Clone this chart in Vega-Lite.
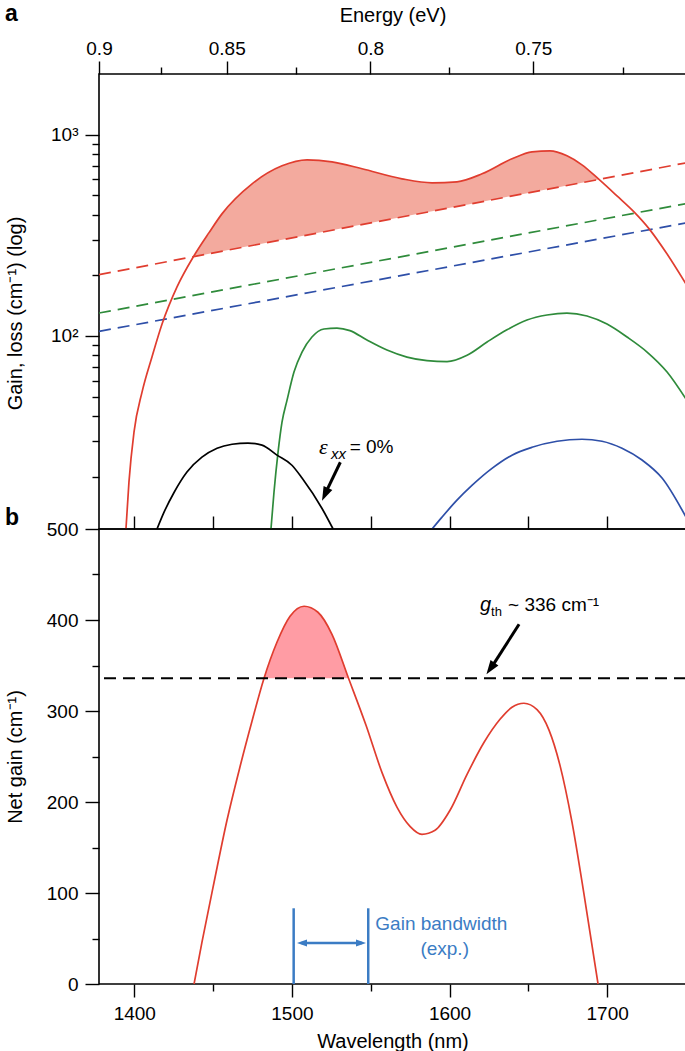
{
  "$schema": "https://vega.github.io/schema/vega-lite/v6.json",
  "padding": {"left": 4, "top": 2, "right": 0, "bottom": 0},
  "config": {
    "font": "Liberation Sans",
    "view": {"stroke": "#000000", "strokeWidth": 1.6},
    "axis": {"domain": false, "grid": false, "labelFontSize": 19, "titleFontSize": 20, "labelColor": "#000000", "titleColor": "#000000", "tickColor": "#000000", "tickWidth": 1.4, "titleFontWeight": "normal", "labelFlush": false, "labelOverlap": false, "labelFont": "Liberation Sans", "titleFont": "Liberation Sans"},
    "title": {"font": "Liberation Sans", "fontSize": 23, "fontWeight": "bold", "anchor": "start", "frame": "bounds", "color": "#000000", "offset": 0}
  },
  "datasets": {
    "gain": [
      {"s":"red","lam":1394.7,"g":11.0},
      {"s":"red","lam":1396.6,"g":18.8},
      {"s":"red","lam":1399.8,"g":33.3},
      {"s":"red","lam":1404.9,"g":52.6},
      {"s":"red","lam":1411.2,"g":78.6},
      {"s":"red","lam":1417.6,"g":114.6},
      {"s":"red","lam":1427.1,"g":175.2},
      {"s":"red","lam":1437.5,"g":247.6,"loss":247.6},
      {"s":"red","lam":1447.4,"g":326,"loss":256.2},
      {"s":"red","lam":1455.6,"g":404,"loss":263.6},
      {"s":"red","lam":1474.7,"g":569.6,"loss":281.4},
      {"s":"red","lam":1493.7,"g":699.8,"loss":300.4},
      {"s":"red","lam":1509.6,"g":749.8,"loss":317.2},
      {"s":"red","lam":1525.4,"g":732.9,"loss":334.9},
      {"s":"red","lam":1544.5,"g":676.5,"loss":357.6},
      {"s":"red","lam":1569.8,"g":603.2,"loss":390.1},
      {"s":"red","lam":1588.9,"g":576.2,"loss":416.6},
      {"s":"red","lam":1604.7,"g":582.9,"loss":439.8},
      {"s":"red","lam":1620.6,"g":638.6,"loss":464.5},
      {"s":"red","lam":1639.6,"g":758.5,"loss":495.9},
      {"s":"red","lam":1652.3,"g":821.5,"loss":517.9},
      {"s":"red","lam":1663.7,"g":831,"loss":538.5},
      {"s":"red","lam":1674.5,"g":784.8,"loss":558.9},
      {"s":"red","lam":1684.0,"g":707.9,"loss":577.4},
      {"s":"red","lam":1694.8,"g":599.2,"loss":599.2},
      {"s":"red","lam":1706.2,"g":496.4},
      {"s":"red","lam":1717.0,"g":413.4},
      {"s":"red","lam":1726.5,"g":341.4},
      {"s":"red","lam":1737.9,"g":256.0},
      {"s":"red","lam":1750.0,"g":181.2},
      {"s":"green","lam":1486.7,"g":11.0},
      {"s":"green","lam":1488.6,"g":16.7},
      {"s":"green","lam":1491.2,"g":26.5},
      {"s":"green","lam":1493.7,"g":37.3},
      {"s":"green","lam":1496.9,"g":48.0},
      {"s":"green","lam":1501.3,"g":66.2},
      {"s":"green","lam":1506.4,"g":83.2},
      {"s":"green","lam":1512.7,"g":98.8},
      {"s":"green","lam":1520.3,"g":108.3},
      {"s":"green","lam":1528.6,"g":109.5},
      {"s":"green","lam":1536.8,"g":106.3},
      {"s":"green","lam":1547.6,"g":95.4},
      {"s":"green","lam":1560.3,"g":85.1},
      {"s":"green","lam":1573.0,"g":78.5},
      {"s":"green","lam":1585.7,"g":75.4},
      {"s":"green","lam":1598.4,"g":74.6},
      {"s":"green","lam":1611.1,"g":80.2},
      {"s":"green","lam":1623.8,"g":93.3},
      {"s":"green","lam":1636.4,"g":107.3},
      {"s":"green","lam":1649.1,"g":120.0},
      {"s":"green","lam":1661.8,"g":127.1},
      {"s":"green","lam":1674.5,"g":130.0},
      {"s":"green","lam":1687.2,"g":125.7},
      {"s":"green","lam":1699.9,"g":114.6},
      {"s":"green","lam":1712.6,"g":98.8},
      {"s":"green","lam":1725.3,"g":83.2},
      {"s":"green","lam":1738.0,"g":66.2},
      {"s":"green","lam":1750.0,"g":48.6},
      {"s":"black","lam":1414.4,"g":11.0},
      {"s":"black","lam":1418.8,"g":13.3},
      {"s":"black","lam":1425.2,"g":16.7},
      {"s":"black","lam":1433.4,"g":21.1},
      {"s":"black","lam":1442.9,"g":25.0},
      {"s":"black","lam":1452.5,"g":27.7},
      {"s":"black","lam":1462.0,"g":29.0},
      {"s":"black","lam":1472.1,"g":29.4},
      {"s":"black","lam":1481.0,"g":28.7},
      {"s":"black","lam":1490.5,"g":25.6},
      {"s":"black","lam":1500.0,"g":22.8},
      {"s":"black","lam":1506.4,"g":19.7},
      {"s":"black","lam":1519.1,"g":13.9},
      {"s":"black","lam":1526.1,"g":11.0},
      {"s":"blue","lam":1588.9,"g":11.0},
      {"s":"blue","lam":1595.2,"g":12.6},
      {"s":"blue","lam":1604.7,"g":15.3},
      {"s":"blue","lam":1614.2,"g":18.1},
      {"s":"blue","lam":1626.9,"g":22.0},
      {"s":"blue","lam":1639.6,"g":25.6},
      {"s":"blue","lam":1652.3,"g":28.0},
      {"s":"blue","lam":1668.2,"g":30.0},
      {"s":"blue","lam":1684.0,"g":30.7},
      {"s":"blue","lam":1696.7,"g":30.0},
      {"s":"blue","lam":1709.4,"g":27.7},
      {"s":"blue","lam":1722.1,"g":24.2},
      {"s":"blue","lam":1734.8,"g":19.7},
      {"s":"blue","lam":1750.0,"g":12.6}
    ],
    "loss": [
      {"s":"red","lam":1377.6,"v":201.6},
      {"s":"red","lam":1750.0,"v":724.2},
      {"s":"green","lam":1377.6,"v":130.0},
      {"s":"green","lam":1750.0,"v":454.5},
      {"s":"blue","lam":1377.6,"v":105.4},
      {"s":"blue","lam":1750.0,"v":364.4}
    ],
    "net": [
      {"lam":1437.9,"v":0},
      {"lam":1442.9,"v":45.8},
      {"lam":1450.6,"v":111.8},
      {"lam":1458.8,"v":179.9},
      {"lam":1467.1,"v":239.0},
      {"lam":1474.7,"v":289.0},
      {"lam":1482.3,"v":336,"th":336},
      {"lam":1490.5,"v":375.5,"th":336},
      {"lam":1498.8,"v":404.1,"th":336},
      {"lam":1507.7,"v":415.1,"th":336},
      {"lam":1516.5,"v":408.5,"th":336},
      {"lam":1525.4,"v":384.3,"th":336},
      {"lam":1535.9,"v":336,"th":336},
      {"lam":1547.0,"v":284.3},
      {"lam":1557.1,"v":232.6},
      {"lam":1566.7,"v":194.2},
      {"lam":1574.9,"v":173.3},
      {"lam":1582.5,"v":164.5},
      {"lam":1590.8,"v":168.9},
      {"lam":1600.3,"v":190.9},
      {"lam":1611.1,"v":230.4},
      {"lam":1621.9,"v":265.6},
      {"lam":1632.0,"v":290.9},
      {"lam":1639.6,"v":304.1},
      {"lam":1647.2,"v":308.5},
      {"lam":1655.5,"v":301.5},
      {"lam":1663.1,"v":279.0},
      {"lam":1670.1,"v":240.0},
      {"lam":1677.7,"v":177.7},
      {"lam":1685.9,"v":92.0},
      {"lam":1694.2,"v":0}
    ]
  },
  "spacing": 0,
  "bounds": "flush",
  "vconcat": [
    {
      "width": 587,
      "height": 455,
      "title": {"text": "a", "dy": 25, "dx": 0},
      "resolve": {"axis": {"x": "independent", "y": "independent"}},
      "layer": [
        {
          "data": {"name": "gain"},
          "transform": [{"filter": "datum.s === 'red' && isValid(datum.loss)"}],
          "mark": {"type": "area", "color": "#f3aa9e", "interpolate": "monotone", "clip": true},
          "encoding": {
            "x": {"field": "lam", "type": "quantitative", "scale": {"domain": [1377.6, 1750], "nice": false, "zero": false}, "axis": null},
            "y": {"field": "g", "type": "quantitative", "scale": {"type": "log", "domain": [11, 2000], "nice": false},
              "axis": {"orient": "left", "values": [100, 1000],
                "labelExpr": "datum.value == 100 ? '10²' : '10³'",
                "tickSize": 14, "labelPadding": 7, "title": "Gain, loss (cm⁻¹) (log)", "titleX": -74, "titleY": 239}},
            "y2": {"field": "loss"}
          }
        },
        {
          "data": {"name": "loss"},
          "mark": {"type": "line", "strokeDash": [12, 7], "strokeWidth": 1.7, "clip": true},
          "encoding": {
            "x": {"field": "lam", "type": "quantitative",
              "axis": {"orient": "top", "values": [1377.6, 1458.64, 1549.8, 1653.12],
                "labelExpr": "format(1239.84/datum.value, '.2~f')",
                "tickSize": 13, "labelPadding": 3, "title": "Energy (eV)", "titlePadding": 14}},
            "y": {"field": "v", "type": "quantitative",
              "axis": {"orient": "left", "values": [20,30,40,50,60,70,80,90,200,300,400,500,600,700,800,900], "tickSize": 7, "labels": false, "title": null}},
            "color": {"field": "s", "type": "nominal", "scale": {"domain": ["red", "green", "blue", "black"], "range": ["#e03d2f", "#2f8b3b", "#2e4fa8", "#000000"]}, "legend": null}
          }
        },
        {
          "data": {"name": "gain"},
          "mark": {"type": "line", "strokeWidth": 1.7, "interpolate": "monotone", "clip": true},
          "encoding": {
            "x": {"field": "lam", "type": "quantitative",
              "axis": {"orient": "bottom", "values": [1400, 1450, 1500, 1550, 1600, 1650, 1700, 1750], "tickSize": -13, "labels": false, "title": null}},
            "y": {"field": "g", "type": "quantitative", "axis": null},
            "color": {"field": "s", "type": "nominal", "scale": {"domain": ["red", "green", "blue", "black"], "range": ["#e03d2f", "#2f8b3b", "#2e4fa8", "#000000"]}, "legend": null}
          }
        },
        {
          "data": {"values": [{"lam": 1530.7, "v": 23.6, "lam2": 1521.8, "v2": 16.9}]},
          "mark": {"type": "rule", "strokeWidth": 3, "color": "#000000"},
          "encoding": {
            "x": {"field": "lam", "type": "quantitative",
              "axis": {"orient": "top", "values": [1416.96, 1502.84, 1599.79, 1710.12], "tickSize": 7, "labels": false, "title": null}},
            "y": {"field": "v", "type": "quantitative", "axis": null},
            "x2": {"field": "lam2"},
            "y2": {"field": "v2"}
          }
        },
        {
          "data": {"values": [{"lam": 1519.1, "v": 15.2}]},
          "mark": {"type": "point", "shape": "M0,0L0.55,1.6L-0.55,1.6Z", "filled": true, "color": "#000000", "opacity": 1, "size": 306, "angle": 205, "strokeWidth": 0},
          "encoding": {
            "x": {"field": "lam", "type": "quantitative", "axis": null},
            "y": {"field": "v", "type": "quantitative", "axis": null}
          }
        },
        {
          "data": {"values": [{"lam": 1517.2, "v": 28.0, "t": "ε"}]},
          "mark": {"type": "text", "font": "Liberation Serif", "fontStyle": "italic", "fontSize": 22, "align": "left", "baseline": "middle", "color": "#000000"},
          "encoding": {
            "x": {"field": "lam", "type": "quantitative", "axis": null},
            "y": {"field": "v", "type": "quantitative", "axis": null},
            "text": {"field": "t"}
          }
        },
        {
          "data": {"values": [{"lam": 1524.8, "v": 25.9, "t": "xx"}]},
          "mark": {"type": "text", "fontStyle": "italic", "fontSize": 15, "align": "left", "baseline": "middle", "color": "#000000"},
          "encoding": {
            "x": {"field": "lam", "type": "quantitative", "axis": null},
            "y": {"field": "v", "type": "quantitative", "axis": null},
            "text": {"field": "t"}
          }
        },
        {
          "data": {"values": [{"lam": 1536.6, "v": 28.0, "t": "= 0%"}]},
          "mark": {"type": "text", "fontSize": 19, "align": "left", "baseline": "middle", "color": "#000000"},
          "encoding": {
            "x": {"field": "lam", "type": "quantitative", "axis": null},
            "y": {"field": "v", "type": "quantitative", "axis": null},
            "text": {"field": "t"}
          }
        }
      ]
    },
    {
      "width": 587,
      "height": 455,
      "title": {"text": "b", "dy": 14, "dx": 0},
      "resolve": {"axis": {"x": "independent", "y": "independent"}},
      "layer": [
        {
          "data": {"name": "net"},
          "transform": [{"filter": "isValid(datum.th)"}],
          "mark": {"type": "area", "color": "#ff9ca4", "interpolate": "monotone", "clip": true},
          "encoding": {
            "x": {"field": "lam", "type": "quantitative", "scale": {"domain": [1377.6, 1750], "nice": false, "zero": false}, "axis": null},
            "y": {"field": "v", "type": "quantitative", "scale": {"domain": [0, 500], "nice": false, "zero": false},
              "axis": {"orient": "left", "values": [0, 100, 200, 300, 400, 500],
                "tickSize": 14, "labelPadding": 7, "title": "Net gain (cm⁻¹)", "titleX": -74}},
            "y2": {"field": "th"}
          }
        },
        {
          "data": {"name": "net"},
          "mark": {"type": "line", "color": "#e03d2f", "strokeWidth": 1.7, "interpolate": "monotone", "clip": true},
          "encoding": {
            "x": {"field": "lam", "type": "quantitative",
              "axis": {"orient": "bottom", "values": [1400, 1500, 1600, 1700], "format": "d",
                "tickSize": 13, "labelPadding": 7, "title": "Wavelength (nm)", "titlePadding": 8}},
            "y": {"field": "v", "type": "quantitative",
              "axis": {"orient": "left", "values": [50, 150, 250, 350, 450], "tickSize": 7, "labels": false, "title": null}}
          }
        },
        {
          "data": {"values": [{"v": 336}]},
          "mark": {"type": "rule", "strokeDash": [12, 7], "strokeWidth": 2, "color": "#000000"},
          "encoding": {"y": {"field": "v", "type": "quantitative", "axis": null}}
        },
        {
          "data": {"values": [{"lam": 1501.1, "v": 0, "v2": 83.2}, {"lam": 1548.4, "v": 0, "v2": 83.2}]},
          "mark": {"type": "rule", "strokeWidth": 2.5, "color": "#3b7cc4"},
          "encoding": {
            "x": {"field": "lam", "type": "quantitative",
              "axis": {"orient": "bottom", "values": [1450, 1550, 1650, 1750], "tickSize": 7, "labels": false, "title": null}},
            "y": {"field": "v", "type": "quantitative", "axis": null},
            "y2": {"field": "v2"}
          }
        },
        {
          "data": {"values": [{"lam": 1506.0, "lam2": 1544.5, "v": 45.1}]},
          "mark": {"type": "rule", "strokeWidth": 2.5, "color": "#3b7cc4"},
          "encoding": {
            "x": {"field": "lam", "type": "quantitative", "axis": null},
            "x2": {"field": "lam2"},
            "y": {"field": "v", "type": "quantitative", "axis": null}
          }
        },
        {
          "data": {"values": [{"lam": 1503.2, "v": 45.1}]},
          "mark": {"type": "point", "shape": "M0,0L0.55,1.6L-0.55,1.6Z", "filled": true, "color": "#3b7cc4", "opacity": 1, "size": 156, "angle": 270, "strokeWidth": 0},
          "encoding": {
            "x": {"field": "lam", "type": "quantitative", "axis": null},
            "y": {"field": "v", "type": "quantitative", "axis": null}
          }
        },
        {
          "data": {"values": [{"lam": 1547.0, "v": 45.1}]},
          "mark": {"type": "point", "shape": "M0,0L0.55,1.6L-0.55,1.6Z", "filled": true, "color": "#3b7cc4", "opacity": 1, "size": 156, "angle": 90, "strokeWidth": 0},
          "encoding": {
            "x": {"field": "lam", "type": "quantitative", "axis": null},
            "y": {"field": "v", "type": "quantitative", "axis": null}
          }
        },
        {
          "data": {"values": [{"lam": 1644.1, "v": 395.3, "lam2": 1627.1, "v2": 349.3}]},
          "mark": {"type": "rule", "strokeWidth": 3, "color": "#000000"},
          "encoding": {
            "x": {"field": "lam", "type": "quantitative", "axis": null},
            "y": {"field": "v", "type": "quantitative", "axis": null},
            "x2": {"field": "lam2"},
            "y2": {"field": "v2"}
          }
        },
        {
          "data": {"values": [{"lam": 1623.4, "v": 340.3}]},
          "mark": {"type": "point", "shape": "M0,0L0.55,1.6L-0.55,1.6Z", "filled": true, "color": "#000000", "opacity": 1, "size": 306, "angle": 215, "strokeWidth": 0},
          "encoding": {
            "x": {"field": "lam", "type": "quantitative", "axis": null},
            "y": {"field": "v", "type": "quantitative", "axis": null}
          }
        },
        {
          "data": {"values": [{"lam": 1619.3, "v": 416.2, "t": "g"}]},
          "mark": {"type": "text", "fontStyle": "italic", "fontSize": 20, "align": "left", "baseline": "middle", "color": "#000000"},
          "encoding": {
            "x": {"field": "lam", "type": "quantitative", "axis": null},
            "y": {"field": "v", "type": "quantitative", "axis": null},
            "text": {"field": "t"}
          }
        },
        {
          "data": {"values": [{"lam": 1626.3, "v": 408.5, "t": "th"}]},
          "mark": {"type": "text", "fontSize": 13, "align": "left", "baseline": "middle", "color": "#000000"},
          "encoding": {
            "x": {"field": "lam", "type": "quantitative", "axis": null},
            "y": {"field": "v", "type": "quantitative", "axis": null},
            "text": {"field": "t"}
          }
        },
        {
          "data": {"values": [{"lam": 1637.1, "v": 416.2, "t": "~ 336 cm⁻¹"}]},
          "mark": {"type": "text", "fontSize": 19, "align": "left", "baseline": "middle", "color": "#000000"},
          "encoding": {
            "x": {"field": "lam", "type": "quantitative", "axis": null},
            "y": {"field": "v", "type": "quantitative", "axis": null},
            "text": {"field": "t"}
          }
        },
        {
          "data": {"values": [{"lam": 1552.9, "v": 65.9, "t": "Gain bandwidth"}]},
          "mark": {"type": "text", "fontSize": 19, "align": "left", "baseline": "middle", "color": "#3b7cc4"},
          "encoding": {
            "x": {"field": "lam", "type": "quantitative", "axis": null},
            "y": {"field": "v", "type": "quantitative", "axis": null},
            "text": {"field": "t"}
          }
        },
        {
          "data": {"values": [{"lam": 1596.9, "v": 38.5, "t": "(exp.)"}]},
          "mark": {"type": "text", "fontSize": 19, "align": "center", "baseline": "middle", "color": "#3b7cc4"},
          "encoding": {
            "x": {"field": "lam", "type": "quantitative", "axis": null},
            "y": {"field": "v", "type": "quantitative", "axis": null},
            "text": {"field": "t"}
          }
        }
      ]
    }
  ]
}
